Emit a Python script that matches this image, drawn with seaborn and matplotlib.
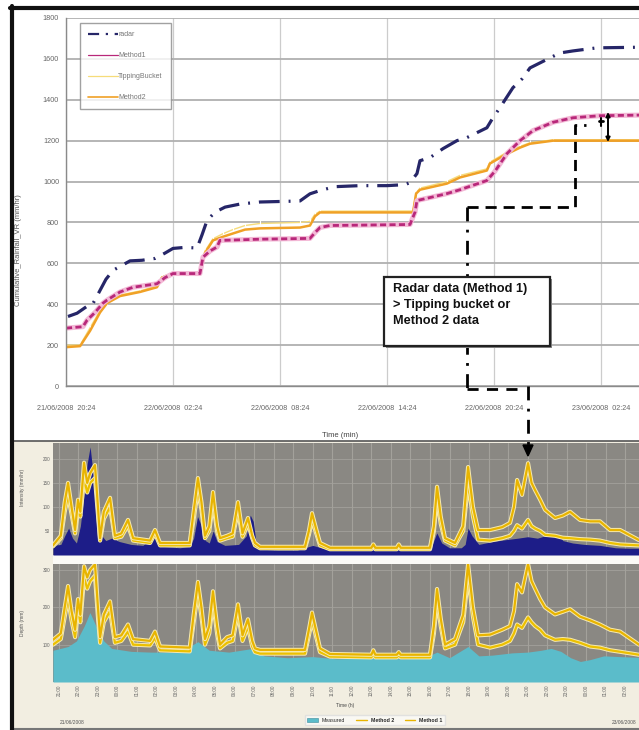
import numpy as np
import pandas as pd
import matplotlib
matplotlib.use("Agg")
import matplotlib.pyplot as plt
import seaborn as sns
from matplotlib.lines import Line2D
from matplotlib.patches import Rectangle, Patch

# ---------------- top chart data (hours since 21/06/2008 20:24, cumulative mm) -------------
radar_h = [0.11, 0.62, 1.18, 1.46, 1.74, 1.91, 2.24, 2.64, 3.14, 3.59,
           4.26, 4.99, 5.55, 6.0, 6.67, 7.35, 7.63, 7.91, 8.35, 8.92,
           9.76, 10.88, 13.12, 13.68, 14.24, 15.08, 16.48, 18.0, 19.01, 19.29,
           19.68, 19.85, 20.41, 21.14, 21.92, 22.48, 23.6, 23.94, 24.33, 25.06,
           25.57, 26.02, 27.14, 27.7, 28.43, 29.77, 32.13]
radar_v = [340, 356, 390, 395, 440, 468, 522, 566, 590, 612,
           615, 624, 650, 673, 678, 675, 740, 810, 850, 875,
           890, 900, 905, 940, 956, 975, 980, 980, 985, 995,
           1039, 1102, 1117, 1161, 1200, 1215, 1263, 1312, 1361, 1459,
           1502, 1556, 1605, 1629, 1639, 1654, 1657]

method1_h = [0, 0.95, 1.18, 1.63, 2.07, 2.3, 3.03, 3.76, 5.1, 5.55,
             6.0, 7.51, 7.68, 8.07, 8.47, 8.63, 10.88, 13.68, 13.96, 14.24,
             14.8, 19.29, 19.57, 19.68, 21.36, 22.09, 23.6, 24.05, 24.73, 25.46,
             26.18, 27.31, 28.43, 29.94, 32.13]
method1_v = [283, 290, 322, 360, 405, 420, 460, 483, 500, 530,
             550, 550, 630, 660, 680, 712, 718, 722, 750, 775,
             785, 790, 850, 907, 941, 960, 1005, 1050, 1137, 1200,
             1249, 1290, 1312, 1322, 1325]

method2_h = [0, 0.79, 1.35, 1.91, 2.3, 3.03, 4.15, 5.1, 5.38, 6.0,
             7.51, 7.79, 8.24, 8.8, 9.36, 10.04, 10.88, 13.12, 13.68, 13.96,
             14.24, 19.46, 19.63, 19.85, 21.36, 22.09, 23.6, 23.77, 24.61, 25.46,
             26.02, 27.31, 32.13]
method2_v = [190, 195, 270, 360, 405, 440, 460, 483, 530, 550,
             550, 650, 712, 730, 746, 765, 771, 775, 785, 830,
             849, 849, 941, 960, 990, 1020, 1054, 1088, 1130, 1166,
             1185, 1200, 1200]
tipping_v = [200, 200, 285, 370, 410, 445, 465, 490, 535, 552,
             552, 660, 720, 745, 765, 785, 795, 800, 805, 840,
             855, 856, 945, 968, 1000, 1030, 1062, 1095, 1138, 1172,
             1190, 1204, 1204]

top_ticks = [0, 6, 12, 18, 24, 30]
top_tick_labels = ['21/06/2008  20:24', '22/06/2008  02:24', '22/06/2008  08:24',
                   '22/06/2008  14:24', '22/06/2008  20:24', '23/06/2008  02:24']
top_yticks = [0, 200, 400, 600, 800, 1000, 1200, 1400, 1600, 1800]

# ---------------- lower panels data (hours) ----------------
meas_int_h = [0, 0.4, 0.6, 0.8, 1.0, 1.2, 1.4, 1.6, 1.75, 1.9,
              2.05, 2.2, 2.4, 2.7, 3.0, 3.4, 4.0, 4.6, 5.2, 5.6,
              6.5, 7.0, 7.2, 7.4, 7.6, 7.8, 8.0, 8.2, 8.4, 8.8,
              9.5, 9.9, 10.1, 10.25, 10.4, 10.7, 11.5, 12.5, 13.3, 14.0,
              15.0, 16.4, 17.7, 19.0, 19.4, 19.65, 19.9, 20.3, 20.9, 21.1,
              21.25, 21.45, 21.8, 22.5, 23.2, 23.8, 24.3, 24.8, 25.2, 25.4,
              25.9, 26.1, 26.6, 27.2, 28.0, 28.8, 29.5, 30.0]
meas_int_v = [20, 22, 40, 56, 35, 25, 60, 130, 190, 225,
              170, 90, 45, 30, 35, 28, 22, 20, 40, 18,
              15, 18, 35, 80, 60, 30, 25, 50, 28, 20,
              22, 40, 83, 70, 25, 12, 10, 10, 20, 12,
              10, 14, 12, 10, 20, 46, 25, 15, 15, 22,
              56, 40, 22, 28, 32, 35, 38, 35, 40, 45,
              42, 30, 25, 22, 20, 15, 14, 14]

panel_h = [0, 0.4, 0.6, 0.77, 0.95, 1.13, 1.28, 1.4, 1.59, 1.75,
           1.9, 2.15, 2.3, 2.41, 2.6, 2.92, 3.17, 3.5, 3.84, 4.1,
           4.97, 5.22, 5.48, 7.0, 7.2, 7.42, 7.6, 7.78, 8.0, 8.19,
           8.4, 8.55, 8.91, 9.2, 9.47, 9.7, 9.98, 10.2, 10.34, 10.6,
           12.9, 13.1, 13.26, 13.5, 13.67, 14.18, 16.3, 16.4, 16.5, 17.6,
           17.7, 17.8, 19.3, 19.5, 19.66, 19.85, 20.07, 20.58, 21.0, 21.25,
           21.5, 21.76, 22.38, 23.0, 23.4, 23.6, 23.76, 24.01, 24.32, 24.5,
           24.68, 24.94, 25.19, 25.7, 26.1, 26.47, 26.98, 27.5, 28.0, 28.52,
           29.03, 30.0]
int_m1 = [20, 40, 110, 150, 100, 52, 115, 90, 192, 150,
          170, 187, 100, 35, 90, 119, 40, 45, 73, 35,
          30, 52, 25, 25, 90, 160, 110, 40, 60, 131,
          60, 35, 40, 45, 110, 45, 77, 40, 25, 17,
          17, 50, 87, 50, 25, 15, 15, 22, 15, 15,
          22, 15, 15, 60, 142, 80, 35, 25, 60, 183,
          100, 52, 52, 58, 67, 100, 156, 125, 191, 150,
          135, 115, 94, 77, 82, 90, 73, 70, 70, 52,
          52, 31]
int_m2 = [18, 35, 90, 125, 85, 45, 95, 80, 160, 130,
          150, 160, 85, 30, 75, 100, 35, 38, 62, 30,
          25, 45, 20, 20, 75, 135, 95, 35, 50, 110,
          50, 30, 35, 38, 92, 38, 65, 35, 20, 14,
          14, 42, 73, 42, 20, 12, 12, 18, 12, 12,
          18, 12, 12, 50, 120, 65, 30, 20, 50, 150,
          80, 32, 30, 35, 40, 50, 62, 55, 73, 60,
          55, 50, 42, 40, 36, 35, 33, 32, 30, 25,
          22, 20]

meas_dep_h = [0, 0.77, 1.2, 1.6, 1.89, 2.2, 2.6, 3.0, 4.0, 5.0,
              6.5, 7.42, 8.0, 9.0, 10.24, 10.8, 12.0, 13.3, 14.5, 16.0,
              18.0, 19.0, 19.66, 20.3, 21.25, 21.8, 22.5, 23.5, 24.3, 25.0,
              25.5, 26.0, 26.5, 27.0, 27.5, 28.2, 29.0, 30.0]
meas_dep_v = [85, 95, 110, 150, 186, 150, 110, 90, 82, 80,
              80, 108, 85, 80, 90, 70, 65, 68, 62, 64,
              62, 65, 80, 65, 95, 70, 72, 78, 80, 85,
              90, 82, 65, 55, 60, 70, 68, 66]
dep_m1 = [113, 130, 200, 257, 190, 140, 222, 180, 310, 280,
          300, 315, 200, 120, 180, 216, 120, 125, 154, 115,
          110, 135, 95, 92, 180, 268, 200, 115, 150, 243,
          150, 100, 120, 125, 208, 125, 168, 110, 90, 86,
          86, 140, 186, 130, 90, 75, 73, 85, 73, 73,
          80, 73, 73, 150, 249, 170, 100, 115, 180, 316,
          200, 125, 127, 140, 150, 190, 262, 240, 316, 270,
          250, 222, 200, 181, 188, 195, 175, 165, 154, 140,
          135, 100]
dep_m2 = [100, 115, 175, 225, 165, 120, 195, 160, 280, 250,
          270, 285, 175, 105, 160, 190, 105, 110, 135, 100,
          98, 118, 85, 82, 160, 240, 175, 100, 130, 215,
          130, 90, 105, 110, 185, 110, 148, 95, 80, 76,
          76, 125, 165, 115, 80, 68, 66, 76, 66, 66,
          72, 66, 66, 130, 220, 150, 90, 100, 160, 285,
          175, 100, 92, 100, 110, 130, 154, 145, 173, 160,
          150, 140, 125, 113, 115, 113, 105, 95, 92, 85,
          81, 73]

low_ticks = [0.3 + k for k in range(30)]
low_tick_labels = ["%02d:00" % ((21 + k) % 24) for k in range(30)]

# ---------------- style ----------------
sns.set_style("white")
plt.rcParams['font.family'] = ['Liberation Sans', 'DejaVu Sans']

W, H = 639, 730
fig = plt.figure(figsize=(W / 100, H / 100), dpi=100)
fig.patch.set_facecolor('white')


def box(x0, y0, x1, y1):
    return [x0 / W, 1 - y1 / H, (x1 - x0) / W, (y1 - y0) / H]


def P(x, y):
    return (x / W, 1 - y / H)


def fline(xs, ys, **kw):
    fig.add_artist(Line2D([x / W for x in xs], [1 - y / H for y in ys],
                          transform=fig.transFigure, **kw))


# lower cream region and frame
fig.add_artist(Rectangle(P(13, 729), (639 - 13) / W, (729 - 441) / H, transform=fig.transFigure,
                         facecolor='#f2eee1', edgecolor='none', zorder=0))
fig.add_artist(Rectangle(P(53, 564), (639 - 53) / W, (564 - 555) / H, transform=fig.transFigure,
                         facecolor='#fbfaf6', edgecolor='none', zorder=0))
fline([13, 639], [441, 441], color='#555555', lw=1.2)
fline([13, 639], [728.5, 728.5], color='#777777', lw=1.5)
fline([11.5, 11.5], [6, 730], color='#111111', lw=3)
fline([10, 639], [7.5, 7.5], color='#111111', lw=3)

# ---------------- top chart ----------------
ax = fig.add_axes(box(66, 18, 639, 386))
ax.set_facecolor('white')
ax.set_xlim(0, 32.13)
ax.set_ylim(0, 1800)
ax.set_yticks(top_yticks)
ax.set_xticks(top_ticks)
ax.set_xticklabels(top_tick_labels)
ax.grid(True, axis='y', color='#b0b0b0', lw=1.3)
ax.grid(True, axis='x', color='#cccccc', lw=0.9)
for s in ['top', 'right']:
    ax.spines[s].set_visible(False)
for s in ['left', 'bottom']:
    ax.spines[s].set_color('#8a8a8a')
    ax.spines[s].set_linewidth(1.0)
ax.tick_params(axis='both', labelsize=5.2, colors='#666666', length=3, width=0.8, direction='inout')
ax.tick_params(axis='x', pad=12)
ax.set_xlabel('Time (min)', fontsize=5.5, color='#444444', labelpad=14)
ax.xaxis.set_label_coords((340 - 66) / 573, -(432 - 386) / 368)
ax.set_ylabel('Cumulative_Rainfall_VR (mm/hr)', fontsize=5.5, color='#555555')
ax.yaxis.set_label_coords(-(66 - 22) / 573, (386 - 250) / 368)

sns.lineplot(x=method2_h, y=tipping_v, ax=ax, color='#f6dc7a', lw=1.0,
             marker='|', markersize=4, markeredgewidth=0.8, legend=False)
sns.lineplot(x=method2_h, y=method2_v, ax=ax, color='#f0a126', lw=1.8, legend=False)
sns.lineplot(x=method1_h, y=method1_v, ax=ax, color='#f3b9d6', lw=3.6, legend=False)
sns.lineplot(x=method1_h, y=method1_v, ax=ax, color='#b8287a', lw=2.0, legend=False)
ax.lines[-1].set_dashes([2.2, 1.2])
sns.lineplot(x=radar_h, y=radar_v, ax=ax, color='#262668', lw=2.3, legend=False)
ax.lines[-1].set_dashes([6.5, 2.8, 0.6, 2.8])

handles = [Line2D([], [], color='#262668', lw=1.6, dashes=[5, 3, 1, 3]),
           Line2D([], [], color='#b8287a', lw=0.9),
           Line2D([], [], color='#f6dc7a', lw=0.9),
           Line2D([], [], color='#f0a126', lw=1.2)]
leg = ax.legend(handles, ['radar', 'Method1', 'TippingBucket', 'Method2'],
                loc='upper left', bbox_to_anchor=((80 - 66) / 573, (386 - 23) / 368),
                fontsize=5, labelcolor='#777777', frameon=True, fancybox=False,
                edgecolor='#8a8a8a', handlelength=4.2, handletextpad=0.1,
                labelspacing=2.0, borderpad=1.2, borderaxespad=0)
leg.get_frame().set_linewidth(1.0)

# ---------------- lower panels ----------------
gray = '#8a8883'
gridc = '#a3a19b'

ax1 = fig.add_axes(box(53, 443, 639, 555))
ax2 = fig.add_axes(box(53, 564, 639, 682))
for a, top in [(ax1, 233), (ax2, 316)]:
    a.set_facecolor(gray)
    a.set_xlim(0, 30)
    a.set_ylim(0, top)
    for s in a.spines.values():
        s.set_visible(False)
    a.set_xticks(low_ticks)
    a.grid(True, axis='x', color=gridc, lw=0.8)
    a.grid(True, axis='y', color=gridc, lw=0.6)
    a.tick_params(axis='both', labelsize=3.3, colors='#666666', length=0, pad=2)

ax1.set_xticklabels([])
ax1.set_yticks([50, 100, 150, 200])
ax2.set_yticks([100, 200, 300])
ax2.set_xticklabels(low_tick_labels, rotation=90)
ax1.set_ylabel('Intensity (mm/hr)', fontsize=3.5, color='#555555')
ax1.yaxis.set_label_coords(-(53 - 25) / 586, 0.6)
ax2.set_ylabel('Depth (mm)', fontsize=3.5, color='#555555')
ax2.yaxis.set_label_coords(-(53 - 25) / 586, 0.5)

ax1.fill_between(meas_int_h, 0, meas_int_v, color='#1d1d88', lw=0, zorder=2)
ax2.fill_between(meas_dep_h, 0, meas_dep_v, color='#5bbcca', lw=0, zorder=2)

for a, m1, m2 in [(ax1, int_m1, int_m2), (ax2, dep_m1, dep_m2)]:
    sns.lineplot(x=panel_h, y=m2, ax=a, color='#f6eab0', lw=3.0, legend=False, zorder=3)
    sns.lineplot(x=panel_h, y=m2, ax=a, color='#ecc000', lw=1.6, legend=False, zorder=3)
    sns.lineplot(x=panel_h, y=m1, ax=a, color='#f6eab0', lw=3.0, legend=False, zorder=4)
    sns.lineplot(x=panel_h, y=m1, ax=a, color='#e8b400', lw=1.6, legend=False, zorder=4)
    a.set_xlabel('')

fig.text(345 / W, 1 - 706 / H, 'Time (h)', fontsize=3.5, color='#444444', ha='center', va='center')
fig.text(60 / W, 1 - 722 / H, '21/06/2008', fontsize=3.5, color='#555555', ha='left', va='center')
fig.text(636 / W, 1 - 722 / H, '23/06/2008', fontsize=3.5, color='#555555', ha='right', va='center')

lh = [Patch(facecolor='#5bbcca', edgecolor='#3a8a9a', lw=0.4),
      Line2D([], [], color='#e8b400', lw=1.0),
      Line2D([], [], color='#e8b400', lw=1.0)]
leg2 = fig.legend(lh, ['Measured', 'Method 2', 'Method 1'], loc='center',
                  bbox_to_anchor=P(375, 720), ncol=3, fontsize=3.8, frameon=True,
                  fancybox=False, edgecolor='#dddddd', facecolor='#fbfbf8',
                  handlelength=2.0, columnspacing=2.0, borderpad=0.4)
for t in leg2.get_texts()[1:]:
    t.set_fontweight('bold')

# ---------------- annotations (pixel overlay) ----------------
ax_ann = fig.add_axes([0, 0, 1, 1], facecolor='none')
ax_ann.set_xlim(0, W)
ax_ann.set_ylim(H, 0)
ax_ann.axis('off')
ax_ann.plot([467, 575, 575, 586], [207, 207, 125, 125], color='black', lw=2.0,
            dashes=[4, 2.5], zorder=3)
ax_ann.plot([467, 467], [207, 388], color='black', lw=2.0, dashes=[5, 3, 1, 3], zorder=3)
ax_ann.plot([467, 520], [389, 389], color='black', lw=2.0, dashes=[4, 3], zorder=3)
ax_ann.plot([528, 528], [386, 447], color='black', lw=2.0, dashes=[5, 3, 1, 3], zorder=3)
ax_ann.add_patch(plt.Polygon([(523, 445), (533, 445), (528, 456)], closed=True,
                             color='black', zorder=3))
ax_ann.annotate('', xy=(608, 112), xytext=(608, 142),
                arrowprops=dict(arrowstyle='<|-|>', color='black', lw=1.4,
                                mutation_scale=6, shrinkA=0, shrinkB=0))
ax_ann.plot([599, 603], [121, 121], color='black', lw=2)
ax_ann.plot([601, 601], [118, 126], color='black', lw=1.5)

# text box with shadow
ax_ann.add_patch(Rectangle((386, 279), 166, 69, facecolor='#888888', edgecolor='none', zorder=5))
ax_ann.add_patch(Rectangle((384, 277), 166, 69, facecolor='white', edgecolor='#222222',
                           lw=1.6, zorder=6))
ax_ann.text(393, 283, 'Radar data (Method 1)\n> Tipping bucket or\nMethod 2 data',
            fontsize=9.2, fontweight='bold', color='#111111', ha='left', va='top',
            linespacing=1.45, zorder=7)

fig.savefig('out.png', dpi=100)
